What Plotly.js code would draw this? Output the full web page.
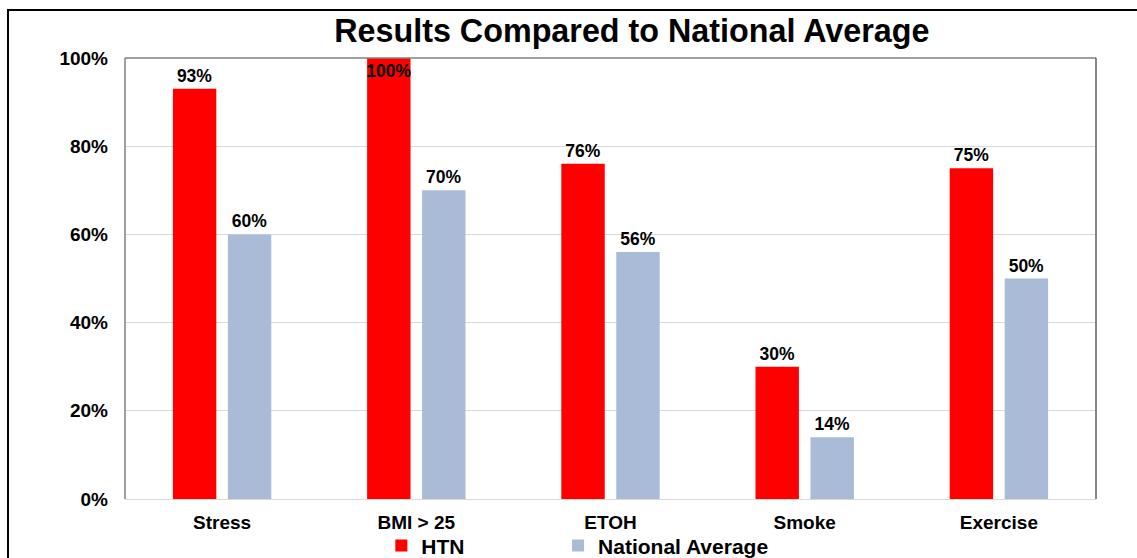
<!DOCTYPE html>
<html>
<head>
<meta charset="utf-8">
<script src="https://cdn.plot.ly/plotly-3.0.1.min.js"></script>
<style>
  html, body { margin: 0; padding: 0; background: #fff; }
  #wrap { position: relative; width: 1137px; height: 558px; overflow: hidden; }
  #chart { width: 1137px; height: 558px; }
  #frame { position: absolute; left: 7px; top: 9px; width: 1200px; height: 700px;
           border-top: 2px solid #000; border-left: 2px solid #000; pointer-events: none; }
</style>
</head>
<body>
<div id="wrap">
  <div id="chart"></div>
  <div id="frame"></div>
</div>
<script>
const categories = ["Stress", "BMI > 25", "ETOH", "Smoke", "Exercise"];
const htnValues = [0.93, 1.00, 0.76, 0.30, 0.75];
const nationalValues = [0.60, 0.70, 0.56, 0.14, 0.50];
const yTickValues = [0, 0.2, 0.4, 0.6, 0.8, 1.0];
const yTickLabels = ["0%", "20%", "40%", "60%", "80%", "100%"];
const seriesNames = ["HTN", "National Average"];

const FONT = "Liberation Sans, Arial, sans-serif";
const pct = v => Math.round(v * 100) + "%";
const labelFont = { family: FONT, size: 17.5, color: "#000", weight: "bold" };

const traces = [
  {
    type: "bar",
    name: seriesNames[0],
    legend: "legend",
    x: categories,
    y: htnValues,
    text: htnValues.map(pct),
    textposition: htnValues.map(v => v >= 0.99 ? "inside" : "outside"),
    insidetextanchor: "end",
    constraintext: "none",
    textangle: 0,
    cliponaxis: false,
    textfont: labelFont,
    insidetextfont: labelFont,
    outsidetextfont: labelFont,
    marker: { color: "#ff0000" },
    hoverinfo: "skip"
  },
  {
    type: "bar",
    name: seriesNames[1],
    legend: "legend2",
    x: categories,
    y: nationalValues,
    text: nationalValues.map(pct),
    textposition: "outside",
    constraintext: "none",
    textangle: 0,
    cliponaxis: false,
    textfont: labelFont,
    marker: { color: "#aabbd8" },
    hoverinfo: "skip"
  }
];

const legendCommon = {
  orientation: "h",
  xref: "paper",
  yref: "paper",
  xanchor: "left",
  y: -0.06,
  yanchor: "top",
  itemwidth: 30,
  font: { family: FONT, size: 21, color: "#000", weight: "bold" },
  bgcolor: "rgba(0,0,0,0)"
};

const layout = {
  width: 1137,
  height: 558,
  margin: { l: 125, r: 41, t: 58, b: 59, autoexpand: false },
  paper_bgcolor: "#ffffff",
  plot_bgcolor: "#ffffff",
  font: { family: FONT, color: "#000" },
  barmode: "group",
  bargap: 0.434,
  bargroupgap: 0.21,
  title: {
    text: "<b>Results Compared to National Average</b>",
    font: { family: FONT, size: 32.3, color: "#000" },
    x: 0.522,
    xref: "paper",
    xanchor: "center",
    y: 0.945,
    yref: "container",
    yanchor: "middle"
  },
  xaxis: {
    type: "category",
    showgrid: false,
    zeroline: false,
    showline: true,
    linecolor: "#d9d9d9",
    linewidth: 1,
    ticks: "",
    ticklabelstandoff: 6,
    tickfont: { family: FONT, size: 19, color: "#000", weight: "bold" },
    fixedrange: true
  },
  yaxis: {
    range: [0, 1],
    tickvals: yTickValues,
    ticktext: yTickLabels,
    showgrid: true,
    gridcolor: "#d9d9d9",
    gridwidth: 1,
    zeroline: false,
    showline: false,
    ticks: "",
    ticklabelstandoff: 16,
    tickfont: { family: FONT, size: 19, color: "#000", weight: "bold" },
    fixedrange: true
  },
  shapes: [
    { type: "line", xref: "paper", yref: "paper", x0: 0, x1: 0, y0: 0, y1: 1, line: { color: "#808080", width: 1.5 } },
    { type: "line", xref: "paper", yref: "paper", x0: 0, x1: 1, y0: 1, y1: 1, line: { color: "#808080", width: 1.5 } },
    { type: "line", xref: "paper", yref: "paper", x0: 1, x1: 1, y0: 0, y1: 1, line: { color: "#606060", width: 1.5 } }
  ],
  showlegend: true,
  legend: Object.assign({}, legendCommon, { x: 0.264 }),
  legend2: Object.assign({}, legendCommon, { x: 0.446 })
};

Plotly.newPlot("chart", traces, layout, { displayModeBar: false, staticPlot: true });
</script>
</body>
</html>
